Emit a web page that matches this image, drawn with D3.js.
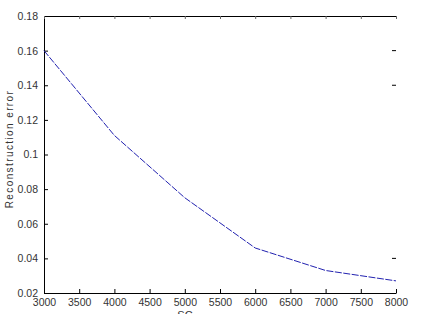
<!DOCTYPE html>
<html>
<head>
<meta charset="utf-8">
<script src="https://cdn.jsdelivr.net/npm/d3@7.9.0/dist/d3.min.js"></script>
<style>
  body { margin: 0; background: #fff; }
  svg { display: block; }
  text { font-family: Arial, "Liberation Sans", sans-serif; fill: #333; }
</style>
</head>
<body>
<svg width="423" height="314"></svg>
<script>
// data
const sizes = [3000, 4000, 5000, 6000, 7000, 8000];
const errors = [0.160, 0.111, 0.075, 0.046, 0.033, 0.027];
const xTicks = [3000, 3500, 4000, 4500, 5000, 5500, 6000, 6500, 7000, 7500, 8000];
const yTicks = [0.02, 0.04, 0.06, 0.08, 0.1, 0.12, 0.14, 0.16, 0.18];
const rightTicks = [0.16, 0.14, 0.04]; // only these survive on the right edge

const svg = d3.select('svg');
const plotL = 44, plotR = 396, plotT = 16, plotB = 293;

const x = d3.scaleLinear().domain([3000, 8000]).range([plotL, plotR]);
const y = d3.scaleLinear().domain([0.02, 0.18]).range([plotB, plotT]);

// bottom axis, ticks pointing in
svg.append('g')
  .attr('transform', `translate(0,${plotB})`)
  .call(d3.axisBottom(x).tickValues(xTicks).tickSize(-4).tickPadding(8).tickSizeOuter(0)
    .tickFormat(d => String(d)))
  .call(g => g.select('.domain').attr('stroke', '#000'))
  .call(g => g.selectAll('.tick line').attr('stroke', '#000'))
  .call(g => g.selectAll('text').attr('font-size', 10.5).attr('fill', '#333').attr('dy', '0.5em'));

// left axis
svg.append('g')
  .attr('transform', `translate(${plotL},0)`)
  .call(d3.axisLeft(y).tickValues(yTicks).tickSize(-4).tickPadding(6).tickSizeOuter(0)
    .tickFormat(d => String(+d.toFixed(2))))
  .call(g => g.select('.domain').attr('stroke', '#000'))
  .call(g => g.selectAll('.tick line').attr('stroke', '#000'))
  .call(g => g.selectAll('text').attr('font-size', 10.5).attr('fill', '#333'));

// top frame
svg.append('g')
  .attr('transform', `translate(0,${plotT})`)
  .call(d3.axisTop(x).tickValues(xTicks).tickSize(-3).tickFormat('').tickSizeOuter(0))
  .call(g => g.select('.domain').attr('stroke', '#000'))
  .call(g => g.selectAll('.tick line').attr('stroke', '#666'));

// right ticks (no spine)
svg.append('g').selectAll('line')
  .data(rightTicks)
  .join('line')
  .attr('x1', plotR - 4).attr('x2', plotR)
  .attr('y1', d => y(d)).attr('y2', d => y(d))
  .attr('stroke', '#000');

// the curve
const line = d3.line().x((d, i) => x(sizes[i])).y(d => y(d));
svg.append('path')
  .datum(errors)
  .attr('d', line)
  .attr('fill', 'none')
  .attr('stroke', '#2222b0')
  .attr('stroke-width', 1)
  .attr('stroke-dasharray', '7,1.5');

// axis labels
svg.append('text')
  .attr('transform', `translate(13,149) rotate(-90)`)
  .attr('text-anchor', 'middle')
  .attr('font-size', 10)
  .attr('letter-spacing', 1.4)
  .text('Reconstruction error');

svg.append('text')
  .attr('x', 185).attr('y', 319)
  .attr('text-anchor', 'middle')
  .attr('font-size', 11)
  .text('SC');
</script>
</body>
</html>
